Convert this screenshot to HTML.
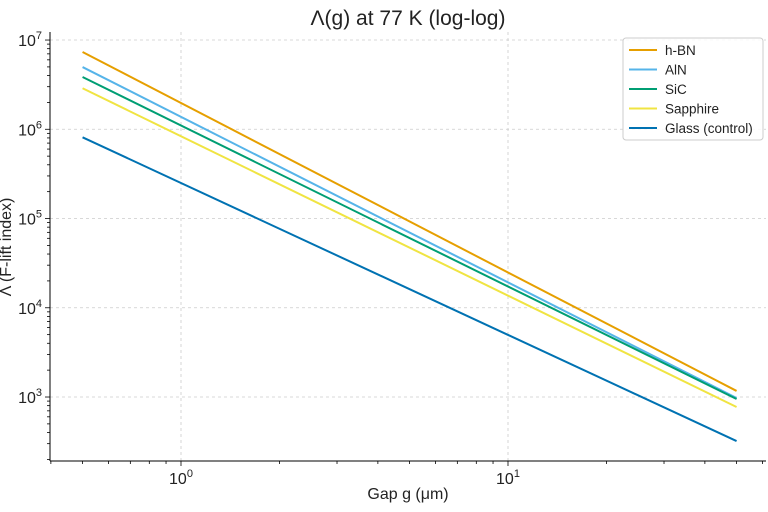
<!DOCTYPE html>
<html><head><meta charset="utf-8"><style>
body{margin:0;background:#fff;}
svg{display:block;font-family:"Liberation Sans","DejaVu Sans",sans-serif;}
</style></head><body>
<svg id="chart" width="768" height="512"></svg>
<script>
const gaps=[0.5,50];
const seriesNames=["h-BN","AlN","SiC","Sapphire","Glass (control)"];
const hbn=[7.35e6,1.17e3];
const aln=[4.98e6,975];
const sic=[3.85e6,950];
const sapphire=[2.88e6,773];
const glass=[8.13e5,321];
const xTickExps=[0,1];
const yTickExps=[3,4,5,6,7];
const colors=["#E69F00","#56B4E9","#009E73","#F0E442","#0072B2"];
const allSeries=[hbn,aln,sic,sapphire,glass];
const NS="http://www.w3.org/2000/svg";
const svg=document.getElementById('chart');
const L=50,R=766,T=32,B=461;
const xmin=-0.4006,xmax=1.789,ymin=2.283,ymax=7.09;
function X(v){return L+(Math.log10(v)-xmin)/(xmax-xmin)*(R-L);}
function Y(v){return B-(Math.log10(v)-ymin)/(ymax-ymin)*(B-T);}
function mk(t,a,p){const e=document.createElementNS(NS,t);for(const k in a)e.setAttribute(k,a[k]);(p||svg).appendChild(e);return e;}
const grid=mk('g',{});


xTickExps.forEach(e=>{const x=X(Math.pow(10,e));mk('line',{x1:x,x2:x,y1:T,y2:B,stroke:'#ccc','stroke-dasharray':'3,3','stroke-width':0.8},grid);});
yTickExps.forEach(e=>{const y=Y(Math.pow(10,e));mk('line',{x1:L,x2:R,y1:y,y2:y,stroke:'#ccc','stroke-dasharray':'3,3','stroke-width':0.8},grid);});
const ax=mk('g',{});


mk('line',{x1:L,x2:L,y1:T,y2:B,stroke:'#000','stroke-width':1},ax);
mk('line',{x1:L,x2:R,y1:B,y2:B,stroke:'#000','stroke-width':1},ax);
for(let e=-1;e<=1;e++)for(let m=1;m<10;m++){const v=m*Math.pow(10,e);const lv=Math.log10(v);if(lv<xmin||lv>xmax)continue;const x=X(v);mk('line',{x1:x,x2:x,y1:B,y2:B+(m==1?5:3),stroke:'#000','stroke-width':0.8},ax);}
xTickExps.forEach(e=>{const x=X(Math.pow(10,e));const t=mk('text',{x:x,y:B+23,'text-anchor':'middle','font-size':16,fill:'#222'},ax);t.innerHTML='10<tspan dy="-7" font-size="11">'+e+'</tspan>';});
for(let e=2;e<=7;e++)for(let m=1;m<10;m++){const v=m*Math.pow(10,e);const lv=Math.log10(v);if(lv<ymin||lv>ymax)continue;const y=Y(v);mk('line',{x1:L,x2:L-(m==1?5:3),y1:y,y2:y,stroke:'#000','stroke-width':0.8},ax);}
yTickExps.forEach(e=>{const y=Y(Math.pow(10,e));const t=mk('text',{x:L-8,y:y+6,'text-anchor':'end','font-size':16,fill:'#222'},ax);t.innerHTML='10<tspan dy="-7" font-size="11">'+e+'</tspan>';});
allSeries.forEach((s,i)=>{const p=mk('polyline',{points:s.map((v,j)=>X(gaps[j])+','+Y(v)).join(' '),fill:'none',stroke:colors[i],'stroke-width':2});});
const ti=mk('text',{x:408,y:25,'text-anchor':'middle','font-size':21,fill:'#222'});ti.textContent='Λ(g) at 77 K (log-log)';
const xl=mk('text',{x:408,y:499,'text-anchor':'middle','font-size':16,fill:'#222'});xl.textContent='Gap g (μm)';
const yl=mk('text',{x:0,y:0,transform:'translate(11,247) rotate(-90)','text-anchor':'middle','font-size':16,fill:'#222'});yl.textContent='Λ (F-lift index)';
const lg=mk('g',{});
mk('rect',{x:623,y:38,width:140,height:102,rx:3,fill:'#fff','fill-opacity':0.85,stroke:'#ccc'},lg);
seriesNames.forEach((n,i)=>{const y=50+i*19.5;const g=mk('g',{},lg);mk('line',{x1:629,x2:657,y1:y,y2:y,stroke:colors[i],'stroke-width':2},g);const t=mk('text',{x:665,y:y+5,'font-size':13.5,fill:'#222'},g);t.textContent=n;});
</script>
</body></html>
